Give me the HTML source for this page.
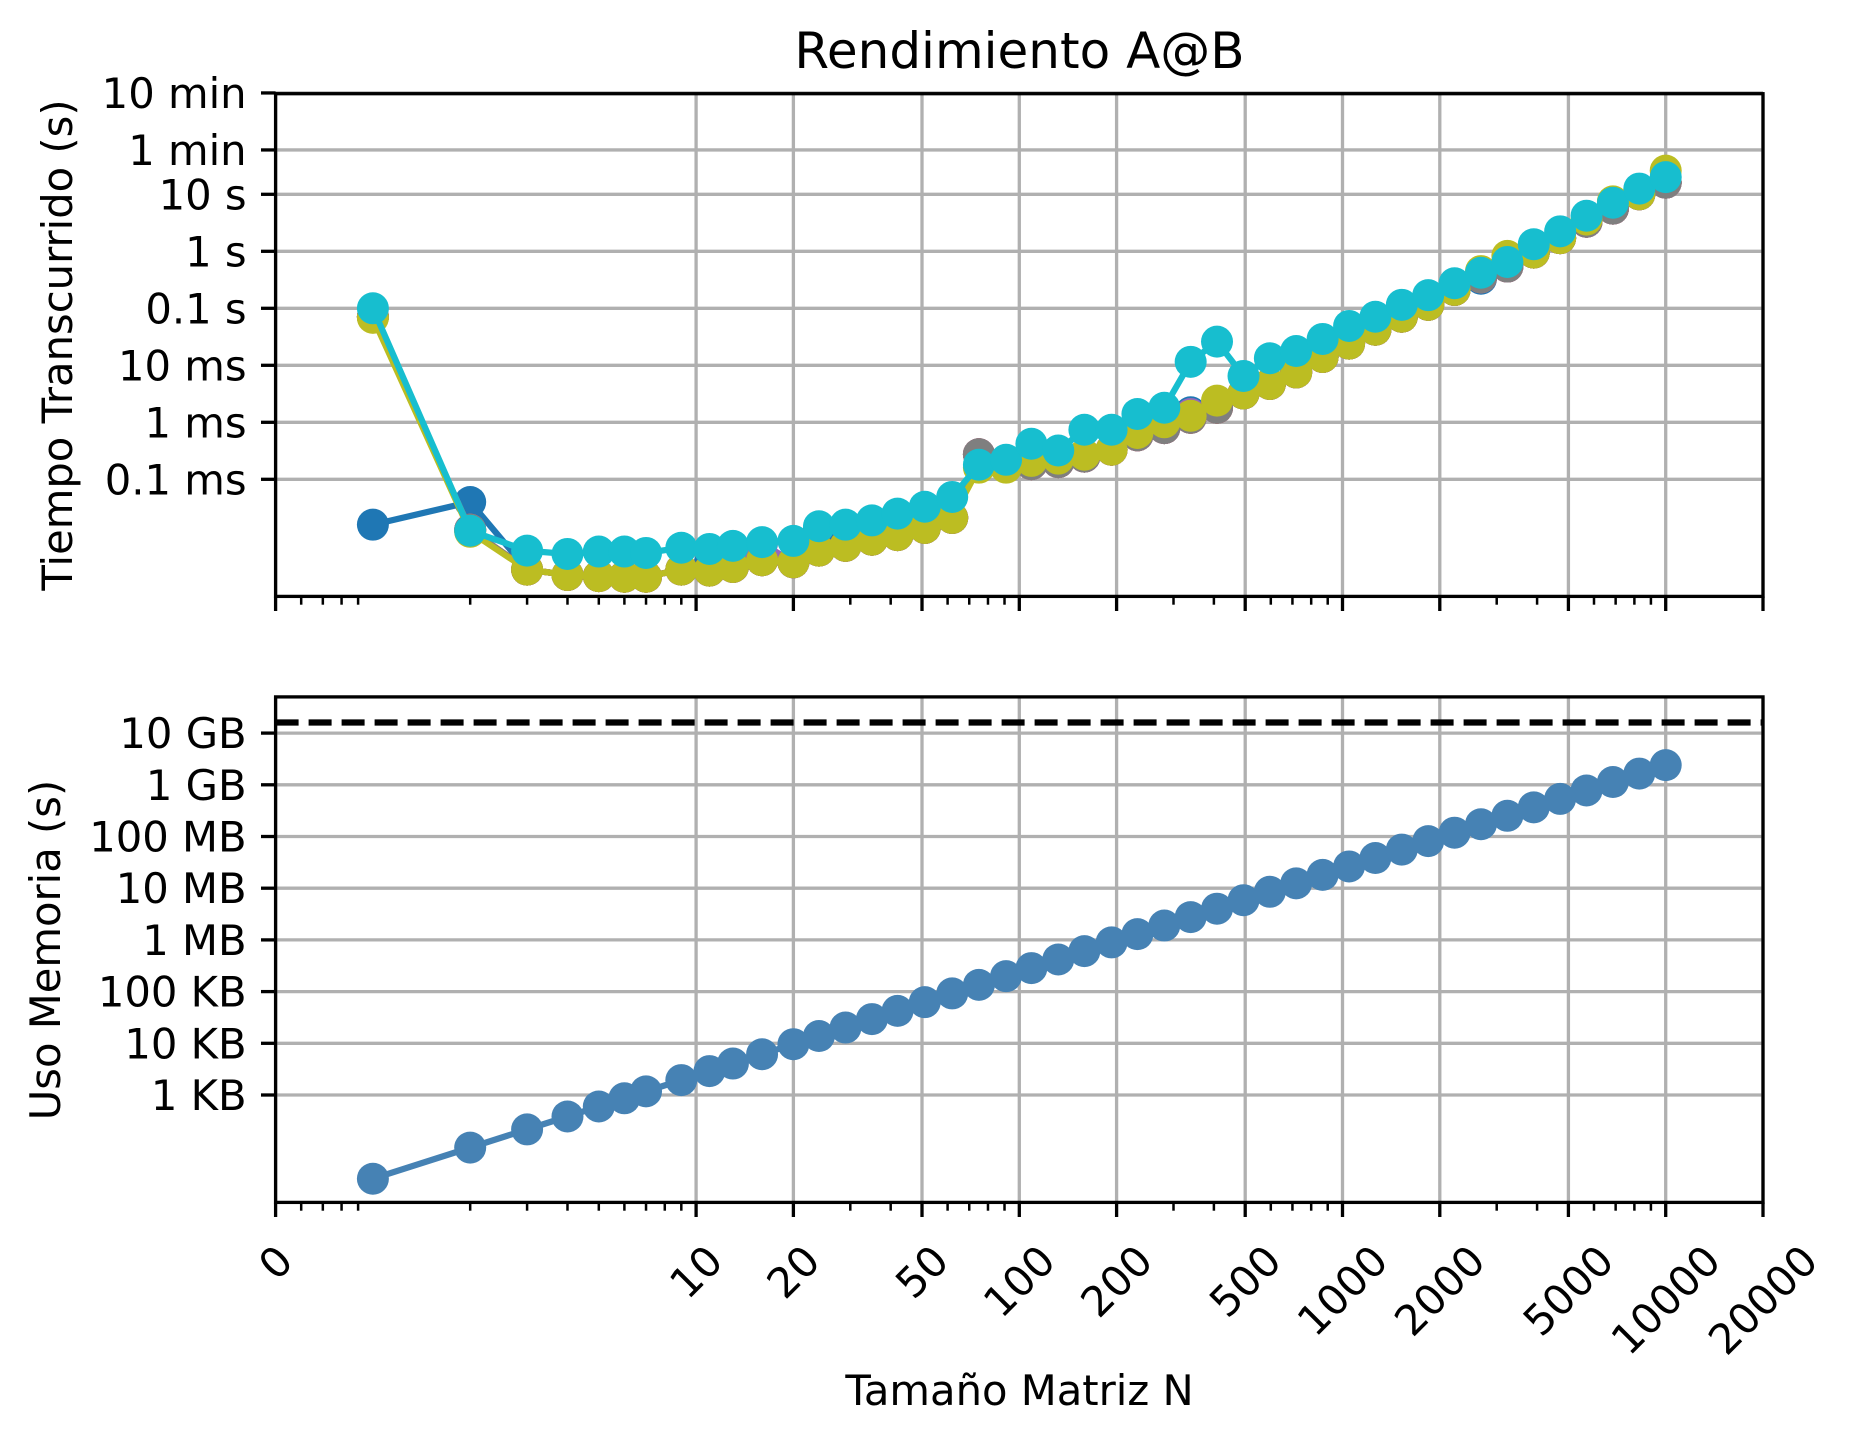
<!DOCTYPE html>
<html><head><meta charset="utf-8"><style>
html,body{margin:0;padding:0;background:#fff}
svg{display:block;font-family:"DejaVu Sans","Liberation Sans",sans-serif}
</style></head><body>
<svg id="chart" width="1854" height="1443" viewBox="0 0 1854 1443" xmlns="http://www.w3.org/2000/svg">
<rect width="1854" height="1443" fill="#fff"/>
<text x="1019.5" y="68" font-size="50" text-anchor="middle">Rendimiento A@B</text>
<g id="topPanel"></g>
<g id="botPanel"></g>
<text transform="translate(72,345) rotate(-90)" font-size="41.7" text-anchor="middle">Tiempo Transcurrido (s)</text>
<text transform="translate(60,950) rotate(-90)" font-size="41.7" text-anchor="middle">Uso Memoria (s)</text>
<text x="1019.5" y="1405" font-size="41.7" text-anchor="middle">Tamaño Matriz N</text>
</svg>
<script>
const sizes = [1,2,3,4,5,6,7,9,11,13,16,20,24,29,35,42,51,62,75,91,109,132,159,193,232,281,339,409,494,596,719,868,1048,1264,1526,1842,2222,2682,3237,3906,4714,5689,6866,8286,10000];
const baseTimes = [0.071,1.3e-5,2.6e-6,2.1e-6,2.0e-6,1.95e-6,1.95e-6,2.6e-6,2.5e-6,2.9e-6,3.8e-6,3.5e-6,5.6e-6,6.8e-6,8.7e-6,1.05e-5,1.4e-5,2.1e-5,2.75e-4,2.0e-4,1.85e-4,2.0e-4,2.5e-4,3.3e-4,5.9e-4,7.9e-4,1.2e-3,1.8e-3,3.2e-3,4.7e-3,7.5e-3,0.014,0.024,0.042,0.071,0.115,0.21,0.35,0.54,0.95,1.7,3.3,5.6,10,16];
const blueTimes = [1.6e-5,4.0e-5,2.6e-6,2.1e-6,2.0e-6,1.95e-6,1.95e-6,2.6e-6,3.3e-6,2.9e-6,3.8e-6,3.5e-6,1.4e-5,6.8e-6,8.7e-6,1.05e-5,1.4e-5,2.1e-5,2.75e-4,2.0e-4,1.85e-4,2.0e-4,2.5e-4,3.3e-4,6.5e-4,7.9e-4,1.5e-3,1.8e-3,3.2e-3,4.7e-3,7.5e-3,0.014,0.024,0.042,0.071,0.115,0.21,0.33,0.54,0.95,1.7,3.3,5.6,10,16];
const purpleTimes = [0.071,1.3e-5,2.6e-6,2.1e-6,2.0e-6,1.95e-6,1.95e-6,2.6e-6,2.5e-6,2.9e-6,7.5e-6,3.5e-6,5.6e-6,6.8e-6,8.7e-6,1.05e-5,1.4e-5,2.1e-5,2.75e-4,2.0e-4,1.85e-4,2.0e-4,2.5e-4,3.3e-4,5.9e-4,7.9e-4,1.4e-3,2.0e-3,3.2e-3,4.7e-3,7.5e-3,0.014,0.024,0.042,0.071,0.115,0.21,0.35,0.54,0.95,1.7,3.3,5.6,10,16];
const oliveTimes = [0.068,1.2e-5,2.6e-6,2.1e-6,2.0e-6,1.95e-6,1.95e-6,2.6e-6,2.5e-6,2.9e-6,3.8e-6,3.5e-6,5.6e-6,6.8e-6,8.7e-6,1.05e-5,1.4e-5,2.1e-5,1.6e-4,1.6e-4,2.1e-4,2.3e-4,2.7e-4,3.3e-4,6.5e-4,1.0e-3,1.3e-3,2.4e-3,3.2e-3,4.7e-3,7.5e-3,0.014,0.024,0.042,0.071,0.115,0.21,0.45,0.83,0.95,1.7,3.6,7.5,10,26];
const cyanTimes = [0.1,1.25e-5,5.6e-6,4.9e-6,5.4e-6,5.4e-6,5.1e-6,6.3e-6,6.0e-6,6.8e-6,7.9e-6,8.3e-6,1.5e-5,1.6e-5,1.9e-5,2.5e-5,3.3e-5,4.9e-5,1.8e-4,2.2e-4,4.2e-4,3.2e-4,7.4e-4,7.4e-4,1.4e-3,1.8e-3,0.0115,0.026,6.5e-3,0.0133,0.0178,0.029,0.049,0.071,0.115,0.17,0.275,0.42,0.65,1.33,2.24,4.2,7.1,12.6,20];
const memoryBytes = [24,96,216,384,600,864,1176,1944,2904,4056,6144,9600,13824,20184,29400,42336,62424,92256,135000,198744,285144,418176,606744,893976,1291776,1895064,2758104,4014744,5856864,8525184,12407064,18082176,26359296,38344704,55888224,81431136,118494816,172634976,251476056,366164064,533323104,776753304,1131406944,1647787104,2400000000];
const memoryLimit = 16e9;
const timeTickValues = [600,60,10,1,0.1,0.01,0.001,0.0001];
const timeTickLabels = ["10 min","1 min","10 s","1 s","0.1 s","10 ms","1 ms","0.1 ms"];
const memTickValues = [1e10,1e9,1e8,1e7,1e6,1e5,1e4,1e3];
const memTickLabels = ["10 GB","1 GB","100 MB","10 MB","1 MB","100 KB","10 KB","1 KB"];
const xTickValues = [0.5,10,20,50,100,200,500,1000,2000,5000,10000,20000];
const xTickLabels = ["0","10","20","50","100","200","500","1000","2000","5000","10000","20000"];

const NS='http://www.w3.org/2000/svg';
const L=275.6,R=1763;
const xmin=0.5,xmax=20000;
const xs=v=>L+(Math.log10(v)-Math.log10(xmin))/(Math.log10(xmax)-Math.log10(xmin))*(R-L);
const T1=93.7,B1=596.4, T2=696.9,B2=1202.4;
const ys1=v=>251.3-57*Math.log10(v);
const ys2=v=>1095-51.7*(Math.log10(v)-3);
function el(tag,attrs,parent){const e=document.createElementNS(NS,tag);for(const k in attrs)e.setAttribute(k,attrs[k]);parent.appendChild(e);return e;}

function minorList(){const out=[];for(let d=-1;d<=4;d++)for(let m=2;m<=9;m++){const v=m*Math.pow(10,d);if(v>xmin&&v<xmax&&![10,20,50,100,200,500,1000,2000,5000,10000].includes(v))out.push(v);}return out;}

function panel(g,T,B,ys,tickVals,tickLabs,prefix,showXLabels){
  xTickValues.forEach((v,i)=>{const x=xs(v);
    const gl=el('line',{x1:x,x2:x,y1:T,y2:B,stroke:'#b0b0b0','stroke-width':3.3},g);
    
    
  });
  tickVals.forEach((v,i)=>{const y=ys(v);
    const gl=el('line',{x1:L,x2:R,y1:y,y2:y,stroke:'#b0b0b0','stroke-width':3.3},g);
    
    
    const tk=el('line',{x1:L-14.6,x2:L,y1:y,y2:y,stroke:'#000','stroke-width':3.3},g);
    
    
    const t=el('text',{x:L-29,y:y+15,'font-size':41.7,'text-anchor':'end'},g);
    t.textContent=tickLabs[i];
    
    
  });
  xTickValues.forEach((v,i)=>{const x=xs(v);
    const tk=el('line',{x1:x,x2:x,y1:B,y2:B+14.6,stroke:'#000','stroke-width':3.3},g);
    
    
    if(showXLabels){
      const t=el('text',{'font-size':41.7,'text-anchor':'middle','dominant-baseline':'central'},g);
      t.textContent=xTickLabels[i];
      
      
      const w=xTickLabels[i].length*26.5;
      const cy=B+38+(w+36)*0.7071/2;
      t.setAttribute('transform','translate('+x+','+cy+') rotate(-45)');
    }
  });
  minorList().forEach(v=>{const x=xs(v);
    const tk=el('line',{x1:x,x2:x,y1:B,y2:B+8.3,stroke:'#000','stroke-width':2.5},g);
    
    
  });
}

function series(g,vals,ys,color,name){
  const pts=sizes.map((n,i)=>xs(n).toFixed(1)+','+ys(vals[i]).toFixed(1)).join(' ');
  const sg=el('g',{},g);
  
  
  const pl=el('polyline',{points:pts,fill:'none',stroke:color,'stroke-width':6.25,'stroke-linejoin':'round'},sg);
  
  
  sizes.forEach((n,i)=>{
    const c=el('circle',{cx:xs(n),cy:ys(vals[i]),r:16,fill:color},sg);
    
    
  });
}

const topG=document.getElementById('topPanel'), botG=document.getElementById('botPanel');
panel(topG,T1,B1,ys1,timeTickValues,timeTickLabels,'time',false);
panel(botG,T2,B2,ys2,memTickValues,memTickLabels,'memory',true);

const runColors=['#1f77b4','#ff7f0e','#2ca02c','#d62728','#9467bd','#8c564b','#e377c2','#7f7f7f','#bcbd22','#17becf'];
const runData=[blueTimes,baseTimes,baseTimes,baseTimes,purpleTimes,baseTimes,baseTimes,baseTimes,oliveTimes,cyanTimes];
runData.forEach((d,i)=>series(topG,d,ys1,runColors[i],'time-run-'+(i+1)));

const lim=el('line',{x1:L,x2:R,y1:ys2(memoryLimit),y2:ys2(memoryLimit),stroke:'#000','stroke-width':6.25,'stroke-dasharray':'23 10'},botG);


series(botG,memoryBytes,ys2,'#4682b4','memory-series');

[[topG,T1,B1,'time'],[botG,T2,B2,'memory']].forEach(([g,T,B,p])=>{
  const f=el('rect',{x:L,y:T,width:R-L,height:B-T,fill:'none',stroke:'#000','stroke-width':3.3},g);
  
  
});
</script>
</body></html>
